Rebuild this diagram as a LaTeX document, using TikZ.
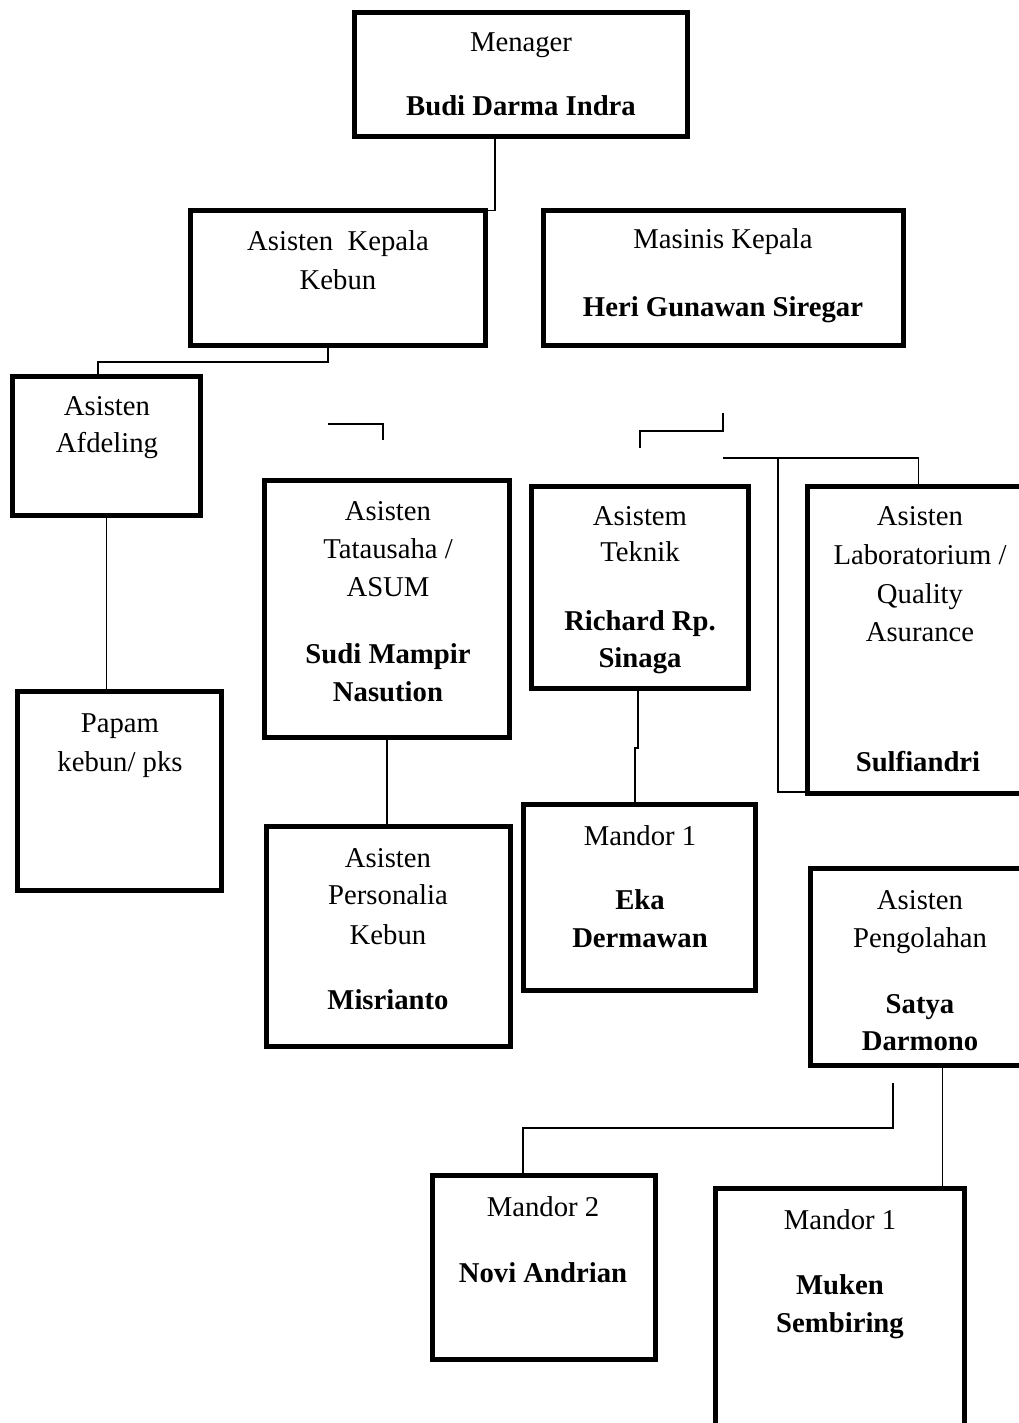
\documentclass[tikz,border=0pt]{standalone}
\usepackage{fontspec}
\setmainfont{Liberation Serif}
\usetikzlibrary{calc}
\begin{document}
\begin{tikzpicture}[x=1pt,y=-1pt,
  box/.style={draw, line width=5pt, inner sep=0pt, outer sep=0pt, anchor=north west},
  lnk/.style={line width=1.6pt},
  t/.style={anchor=base, inner sep=0pt, font=\fontsize{28.7}{34}\selectfont},
  tb/.style={anchor=base, inner sep=0pt, font=\fontsize{28.7}{34}\selectfont\bfseries}]
\useasboundingbox (0,0) rectangle (1019,1423);
\clip (0,0) rectangle (1019,1423);
% boxes
\node[box, minimum width=333, minimum height=124] (men) at (354.5,12.5) {};
\node[box, minimum width=295, minimum height=135] (akk) at (190.5,210.5) {};
\node[box, minimum width=360, minimum height=135] (mk) at (543.5,210.5) {};
\node[box, minimum width=188, minimum height=139] (afd) at (12.5,376.5) {};
\node[box, minimum width=245, minimum height=257] (tu) at (264.5,480.5) {};
\node[box, minimum width=217, minimum height=202] (tek) at (531.5,486.5) {};
\node[box, minimum width=222, minimum height=307] (lab) at (807.5,486.5) {};
\node[box, minimum width=204, minimum height=199] (pap) at (17.5,691.5) {};
\node[box, minimum width=244, minimum height=220] (pers) at (266.5,826.5) {};
\node[box, minimum width=232, minimum height=186] (m1e) at (523.5,804.5) {};
\node[box, minimum width=220, minimum height=197] (peng) at (810.5,868.5) {};
\node[box, minimum width=223, minimum height=184] (m2) at (432.5,1175.5) {};
\node[box, minimum width=249, minimum height=252] (m1m) at (715.5,1188.5) {};
% texts
\node[t] (men1) at (521,52) {Menager};
\node[tb] (men2) at (521,116) {Budi Darma Indra};
\node[t] (akk1) at (338,251) {Asisten\ \ Kepala};
\node[t] (akk2) at (338,289) {Kebun};
\node[t] (mk1) at (723,249) {Masinis Kepala};
\node[tb] (mk2) at (723,316) {Heri Gunawan Siregar};
\node[t] (afd1) at (107,415) {Asisten};
\node[t] (afd2) at (107,452) {Afdeling};
\node[t] (tu1) at (388,520) {Asisten};
\node[t] (tu2) at (388,558) {Tatausaha /};
\node[t] (tu3) at (388,596) {ASUM};
\node[tb] (tu4) at (388,663) {Sudi Mampir};
\node[tb] (tu5) at (388,701) {Nasution};
\node[t] (tek1) at (640,525) {Asistem};
\node[t] (tek2) at (640,561) {Teknik};
\node[tb] (tek3) at (640,630) {Richard Rp.};
\node[tb] (tek4) at (640,667) {Sinaga};
\node[t] (lab1) at (920,525) {Asisten};
\node[t] (lab2) at (920,564) {Laboratorium /};
\node[t] (lab3) at (920,603) {Quality};
\node[t] (lab4) at (920,641) {Asurance};
\node[tb] (lab5) at (918,771) {Sulfiandri};
\node[t] (pap1) at (120,732) {Papam};
\node[t] (pap2) at (120,771) {kebun/ pks};
\node[t] (pers1) at (388,867) {Asisten};
\node[t] (pers2) at (388,904) {Personalia};
\node[t] (pers3) at (388,944) {Kebun};
\node[tb] (pers4) at (388,1009) {Misrianto};
\node[t] (m1e1) at (640,845) {Mandor 1};
\node[tb] (m1e2) at (640,909) {Eka};
\node[tb] (m1e3) at (640,947) {Dermawan};
\node[t] (peng1) at (920,909) {Asisten};
\node[t] (peng2) at (920,947) {Pengolahan};
\node[tb] (peng3) at (920,1013) {Satya};
\node[tb] (peng4) at (920,1050) {Darmono};
\node[t] (m21) at (543,1216) {Mandor 2};
\node[tb] (m22) at (543,1282) {Novi Andrian};
\node[t] (m1m1) at (840,1229) {Mandor 1};
\node[tb] (m1m2) at (840,1294) {Muken};
\node[tb] (m1m3) at (840,1332) {Sembiring};
% connectors
\draw[lnk] ($(men.south)+(-26,0)$) |- (akk.north east);
\draw[lnk] ($(akk.south)+(-10,0)$) -- ++(0,16.5) -| ($(afd.north)+(-8.5,0)$);
\coordinate (f1) at (328,424);
\draw[lnk] (f1) -- ++(55,0) -- ++(0,16);
\coordinate (f2) at (723,413);
\draw[lnk] (f2) -- ++(0,18) -- ++(-83,0) -- ++(0,17);
\coordinate (f3) at (723,458);
\draw[lnk] (f3) -| (lab.north);
\coordinate (f4) at (778,458);
\draw[lnk] (f4) |- ($(lab.south west)+(0,-1.5)$);
\draw[lnk] ($(tek.south)+(-2,0)$) -- ++(0,59.5) -| ($(m1e.north)+(-4.5,0)$);
\draw[lnk] (tu.south) -- (tu.south |- pers.north);
\draw[lnk] (afd.south) -- (afd.south |- pap.north);
\coordinate (p1) at ($(peng.south)+(22,0)$);
\draw[lnk] (p1) -- (p1 |- m1m.north);
\coordinate (f5) at (893,1083);
\draw[lnk] (f5) -- ++(0,45) -| ($(m2.north)+(-21,0)$);
\end{tikzpicture}
\end{document}
